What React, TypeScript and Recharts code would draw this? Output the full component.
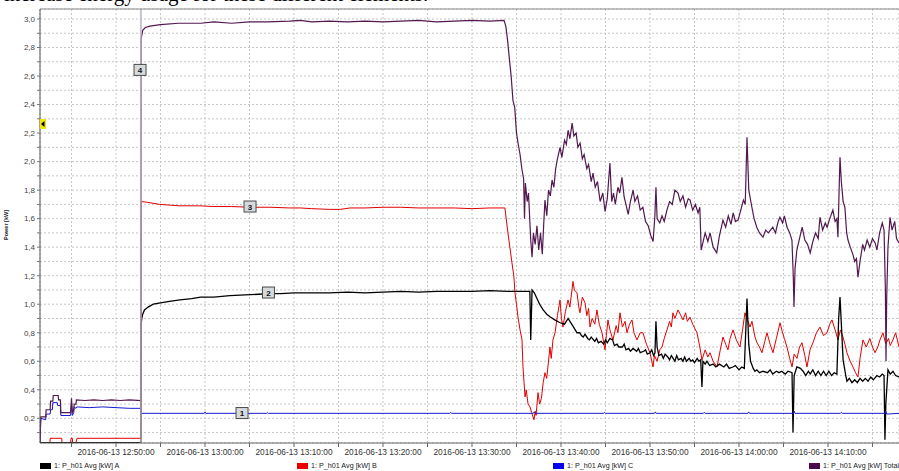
import React from 'react'
import {
  LineChart,
  Line,
  XAxis,
  YAxis,
  CartesianGrid,
  ReferenceLine,
  ReferenceDot,
} from 'recharts'

// time in minutes after 12:00, value in kW
const phaseA: [number, number][] = [
  [41.46, 0.03], [52.8, 0.03], [52.82, 0.86], [52.9, 0.9], [53.0, 0.93], [53.2, 0.96], [53.6, 0.98],
  [54.2, 1.0], [55, 1.01], [56, 1.02], [57.2, 1.03], [58.5, 1.04], [59.5, 1.05], [61, 1.05],
  [62.8, 1.06], [64.5, 1.065], [66, 1.07], [67.3, 1.075], [68.5, 1.075], [70, 1.08], [72, 1.08],
  [74, 1.08], [76, 1.085], [78, 1.08], [80, 1.085], [82, 1.09], [84, 1.085], [86, 1.09], [88, 1.09],
  [90, 1.09], [92, 1.095], [94, 1.09], [96.5, 1.09], [96.6, 0.75], [96.75, 1.1], [97.0, 1.08],
  [97.3, 1.04], [97.6, 1.0], [98.0, 0.96], [98.4, 0.93], [98.8, 0.91], [99.3, 0.89], [99.9, 0.87],
  [100.4, 0.86], [100.8, 0.9], [101.2, 0.86], [101.6, 0.82], [101.8, 0.8], [102.1, 0.8], [102.3, 0.78],
  [102.5, 0.77], [102.7, 0.79], [103.0, 0.76], [103.2, 0.75], [103.4, 0.77], [103.8, 0.74],
  [104.0, 0.76], [104.2, 0.73], [104.5, 0.74], [104.8, 0.72], [105.0, 0.75], [105.2, 0.73],
  [105.5, 0.76], [105.8, 0.75], [106.0, 0.71], [106.3, 0.72], [106.5, 0.7], [106.9, 0.7],
  [107.1, 0.72], [107.3, 0.68], [107.6, 0.69], [107.8, 0.67], [108.1, 0.69], [108.5, 0.67],
  [108.7, 0.69], [108.9, 0.66], [109.3, 0.67], [109.5, 0.68], [109.7, 0.65], [110.0, 0.66],
  [110.2, 0.68], [110.4, 0.64], [110.56, 0.66], [110.67, 0.88], [110.8, 0.7], [111.0, 0.64],
  [111.3, 0.65], [111.5, 0.62], [111.7, 0.65], [112.0, 0.63], [112.2, 0.61], [112.4, 0.64],
  [112.6, 0.62], [112.8, 0.6], [113.0, 0.64], [113.2, 0.61], [113.5, 0.62], [113.7, 0.6],
  [113.9, 0.63], [114.1, 0.6], [114.4, 0.62], [114.6, 0.6], [114.8, 0.61], [115.0, 0.59],
  [115.3, 0.62], [115.5, 0.6], [115.7, 0.61], [115.84, 0.42], [115.95, 0.6], [116.2, 0.58],
  [116.4, 0.6], [116.7, 0.57], [117.1, 0.58], [117.4, 0.56], [117.8, 0.58], [118.3, 0.56],
  [118.6, 0.58], [118.9, 0.55], [119.3, 0.56], [119.6, 0.57], [120.0, 0.54], [120.3, 0.56],
  [120.6, 0.55], [120.9, 1.04], [121.1, 0.72], [121.3, 0.6], [121.6, 0.55], [121.8, 0.53],
  [122.0, 0.54], [122.3, 0.52], [122.7, 0.53], [123.2, 0.52], [123.5, 0.54], [123.8, 0.51],
  [124.2, 0.53], [124.5, 0.52], [124.8, 0.53], [125.2, 0.51], [125.5, 0.53], [125.96, 0.52],
  [126.07, 0.1], [126.2, 0.5], [126.5, 0.56], [126.9, 0.55], [127.2, 0.53], [127.5, 0.5],
  [127.8, 0.53], [128.0, 0.51], [128.3, 0.54], [128.6, 0.5], [128.9, 0.53], [129.2, 0.5],
  [129.5, 0.53], [129.8, 0.5], [130.1, 0.53], [130.4, 0.5], [130.7, 0.52], [131.0, 0.51],
  [131.2, 0.9], [131.35, 1.05], [131.55, 0.8], [131.7, 0.61], [132.0, 0.5], [132.13, 0.46],
  [132.4, 0.48], [132.7, 0.45], [133.0, 0.47], [133.3, 0.45], [133.6, 0.48], [133.9, 0.46],
  [134.2, 0.48], [134.5, 0.46], [134.8, 0.49], [135.1, 0.47], [135.5, 0.5], [135.8, 0.49],
  [136.1, 0.51], [136.3, 0.5], [136.4, 0.05], [136.5, 0.3], [136.74, 0.54], [137.0, 0.51],
  [137.3, 0.53], [137.6, 0.5], [137.98, 0.49],
]

const phaseB: [number, number][] = [
  [41.46, 0.03], [42.58, 0.03], [42.6, 0.06], [43.9, 0.06], [43.93, 0.03], [44.9, 0.03], [44.95, 0.06],
  [45.1, 0.06], [45.12, 0.03], [45.5, 0.03], [45.62, 0.06], [52.8, 0.06], [52.82, 1.72], [53.5, 1.715],
  [54.9, 1.7], [56, 1.695], [57.2, 1.69], [59.4, 1.69], [61, 1.685], [63, 1.685], [65, 1.68],
  [67.3, 1.68], [69.5, 1.675], [70.7, 1.675], [72, 1.67], [74, 1.665], [75.2, 1.665], [76.3, 1.675],
  [78, 1.675], [80, 1.68], [82, 1.68], [84, 1.675], [86, 1.675], [88, 1.675], [90, 1.67], [92, 1.675],
  [93.7, 1.675], [94.04, 1.5], [94.3, 1.38], [94.49, 1.29], [94.7, 1.2], [94.83, 1.08], [95.0, 1.0],
  [95.17, 0.91], [95.4, 0.82], [95.62, 0.75], [95.73, 0.56], [95.85, 0.45], [95.96, 0.35], [96.1, 0.4],
  [96.3, 0.3], [96.52, 0.28], [96.7, 0.24], [96.97, 0.19], [97.1, 0.25], [97.2, 0.22], [97.42, 0.38],
  [97.6, 0.3], [97.8, 0.34], [98.0, 0.45], [98.2, 0.52], [98.4, 0.48], [98.76, 0.7], [98.9, 0.62],
  [99.1, 0.75], [99.33, 0.8], [99.6, 0.92], [99.89, 1.03], [100.05, 0.9], [100.22, 0.84], [100.5, 0.95],
  [100.79, 1.03], [101.0, 0.98], [101.35, 1.16], [101.5, 1.1], [101.8, 1.08], [102.0, 0.98],
  [102.13, 0.94], [102.4, 1.05], [102.7, 1.01], [102.9, 0.92], [103.1, 0.97], [103.26, 0.84],
  [103.5, 0.9], [103.8, 0.86], [104.04, 0.96], [104.3, 0.86], [104.61, 0.8], [104.94, 0.68],
  [105.1, 0.78], [105.28, 0.89], [105.5, 0.82], [105.84, 0.75], [106.2, 0.85], [106.4, 0.8],
  [106.63, 0.94], [106.9, 0.84], [107.2, 0.88], [107.42, 0.8], [107.7, 0.86], [107.98, 0.89],
  [108.2, 0.8], [108.54, 0.75], [108.9, 0.8], [109.21, 0.8], [109.6, 0.72], [110.0, 0.66],
  [110.34, 0.56], [110.5, 0.64], [110.8, 0.6], [111.1, 0.68], [111.35, 0.7], [111.6, 0.76],
  [111.91, 0.82], [112.2, 0.88], [112.4, 0.84], [112.58, 0.94], [112.8, 0.9], [113.15, 0.96],
  [113.4, 0.93], [113.71, 0.89], [114.0, 0.94], [114.2, 0.88], [114.49, 0.91], [114.8, 0.86],
  [115.28, 0.8], [115.6, 0.7], [115.84, 0.61], [116.2, 0.68], [116.5, 0.63], [116.74, 0.66],
  [117.1, 0.6], [117.53, 0.56], [117.9, 0.68], [118.2, 0.77], [118.5, 0.72], [118.76, 0.68],
  [119.0, 0.76], [119.33, 0.82], [119.7, 0.75], [120.11, 0.7], [120.4, 0.82], [120.67, 0.94],
  [120.9, 0.9], [121.24, 0.84], [121.46, 0.88], [121.8, 0.77], [122.02, 0.73], [122.3, 0.7],
  [122.58, 0.66], [122.9, 0.74], [123.15, 0.8], [123.5, 0.72], [123.82, 0.66], [124.2, 0.76],
  [124.61, 0.87], [124.9, 0.8], [125.1, 0.76], [125.39, 0.7], [125.7, 0.62], [125.96, 0.56],
  [126.2, 0.65], [126.52, 0.62], [126.8, 0.7], [127.08, 0.73], [127.4, 0.64], [127.64, 0.56],
  [127.98, 0.68], [128.31, 0.73], [128.7, 0.8], [129.1, 0.84], [129.5, 0.78], [129.89, 0.8],
  [130.2, 0.86], [130.45, 0.89], [130.8, 0.82], [131.12, 0.75], [131.4, 0.82], [131.69, 0.77],
  [131.9, 0.72], [132.13, 0.66], [132.5, 0.6], [132.81, 0.56], [133.1, 0.52], [133.37, 0.49],
  [133.6, 0.62], [133.93, 0.75], [134.3, 0.7], [134.7, 0.76], [135.0, 0.7], [135.28, 0.66],
  [135.6, 0.7], [135.84, 0.75], [136.18, 0.8], [136.5, 0.72], [136.8, 0.76], [137.0, 0.71],
  [137.3, 0.75], [137.6, 0.8], [137.98, 0.7],
]

const phaseC: [number, number][] = [
  [41.46, 0.03], [41.55, 0.2], [42.1, 0.19], [42.15, 0.23], [42.6, 0.23], [42.65, 0.26], [42.85, 0.26],
  [42.9, 0.31], [43.4, 0.31], [43.45, 0.29], [43.75, 0.29], [43.8, 0.22], [44.9, 0.22], [45.0, 0.3],
  [45.1, 0.22], [45.25, 0.24], [45.3, 0.28], [45.5, 0.27], [45.6, 0.28], [47, 0.275], [48.5, 0.28],
  [50, 0.275], [51.5, 0.27], [52.8, 0.27], [52.82, 0.235], [59.9, 0.235], [60, 0.245], [60.1, 0.235],
  [66.9, 0.235], [67, 0.24], [67.1, 0.235], [87.5, 0.235], [87.6, 0.242], [87.7, 0.235],
  [96.9, 0.235], [97, 0.245], [97.1, 0.235], [104.8, 0.235], [104.9, 0.242], [105, 0.235],
  [110.5, 0.235], [110.6, 0.245], [110.7, 0.235], [116, 0.235], [116.1, 0.242], [116.2, 0.235],
  [121, 0.235], [121.1, 0.245], [121.2, 0.235], [126.1, 0.235], [126.2, 0.25], [126.3, 0.235],
  [131.4, 0.235], [131.5, 0.242], [131.6, 0.235], [136.4, 0.235], [136.5, 0.25], [136.6, 0.23],
  [137.98, 0.235],
]

const total: [number, number][] = [
  [41.46, 0.03], [41.55, 0.21], [42.1, 0.21], [42.15, 0.26], [42.6, 0.26], [42.65, 0.32], [42.9, 0.32],
  [42.95, 0.36], [43.5, 0.36], [43.55, 0.33], [43.75, 0.33], [43.8, 0.24], [44.9, 0.24], [45.0, 0.34],
  [45.1, 0.24], [45.25, 0.26], [45.3, 0.3], [45.5, 0.3], [45.55, 0.33], [46.5, 0.325], [47.5, 0.33],
  [48.5, 0.325], [49.5, 0.33], [50.5, 0.325], [51.5, 0.33], [52.8, 0.325], [52.82, 2.86], [53.0, 2.92],
  [53.3, 2.94], [53.8, 2.95], [55, 2.96], [57, 2.97], [59.5, 2.97], [61, 2.98], [63, 2.97], [65, 2.98],
  [67, 2.98], [69.5, 2.985], [70.7, 2.99], [72, 2.98], [74, 2.985], [76, 2.98], [78, 2.985], [80, 2.98],
  [82, 2.985], [84, 2.99], [86, 2.98], [88, 2.985], [90, 2.99], [92, 2.985], [93.6, 2.99],
  [93.8, 2.95], [94.0, 2.85], [94.2, 2.72], [94.4, 2.6], [94.6, 2.43], [94.8, 2.38], [95.0, 2.2],
  [95.2, 2.12], [95.4, 2.05], [95.6, 1.95], [95.8, 1.88], [95.9, 1.6], [96.0, 1.85], [96.2, 1.72],
  [96.35, 1.78], [96.5, 1.58], [96.6, 1.45], [96.75, 1.33], [96.9, 1.5], [97.1, 1.42], [97.3, 1.55],
  [97.5, 1.38], [97.7, 1.5], [97.9, 1.35], [98.05, 1.55], [98.2, 1.73], [98.4, 1.62], [98.6, 1.8],
  [98.8, 1.76], [99.0, 1.87], [99.2, 1.82], [99.4, 1.95], [99.6, 2.02], [99.9, 2.1], [100.1, 2.03],
  [100.4, 2.15], [100.6, 2.12], [100.8, 2.22], [101.0, 2.16], [101.25, 2.27], [101.45, 2.18],
  [101.7, 2.2], [101.9, 2.1], [102.15, 2.13], [102.4, 2.02], [102.6, 2.05], [102.9, 1.95],
  [103.1, 1.98], [103.4, 1.86], [103.6, 1.92], [103.85, 1.82], [104.1, 1.86], [104.4, 1.72],
  [104.7, 1.78], [104.95, 1.65], [105.2, 1.74], [105.5, 1.99], [105.7, 1.72], [105.9, 1.78],
  [106.1, 1.7], [106.4, 1.82], [106.6, 1.78], [106.85, 1.89], [107.1, 1.75], [107.3, 1.7],
  [107.55, 1.63], [107.8, 1.72], [108.1, 1.8], [108.3, 1.72], [108.6, 1.76], [108.9, 1.66],
  [109.2, 1.68], [109.5, 1.58], [109.8, 1.55], [110.1, 1.48], [110.35, 1.44], [110.55, 1.62],
  [110.67, 1.82], [110.8, 1.6], [111.1, 1.57], [111.35, 1.62], [111.6, 1.58], [111.9, 1.66],
  [112.2, 1.72], [112.5, 1.7], [112.8, 1.8], [113.15, 1.78], [113.4, 1.72], [113.7, 1.76],
  [114.0, 1.68], [114.3, 1.74], [114.5, 1.73], [114.8, 1.66], [115.1, 1.7], [115.4, 1.64],
  [115.6, 1.68], [115.75, 1.38], [115.9, 1.42], [116.2, 1.5], [116.5, 1.44], [116.75, 1.5],
  [117.1, 1.4], [117.5, 1.36], [117.8, 1.48], [118.2, 1.59], [118.5, 1.54], [118.8, 1.62],
  [119.1, 1.56], [119.35, 1.64], [119.6, 1.58], [119.9, 1.59], [120.2, 1.66], [120.5, 1.73],
  [120.7, 1.7], [120.9, 2.17], [121.1, 1.8], [121.45, 1.68], [121.7, 1.6], [122.0, 1.54],
  [122.3, 1.5], [122.7, 1.47], [123.0, 1.52], [123.3, 1.5], [123.8, 1.54], [124.1, 1.5],
  [124.4, 1.58], [124.6, 1.61], [124.9, 1.57], [125.1, 1.62], [125.4, 1.54], [125.7, 1.5],
  [125.95, 1.45], [126.1, 1.2], [126.18, 0.98], [126.3, 1.25], [126.5, 1.38], [126.8, 1.46],
  [127.1, 1.54], [127.4, 1.45], [127.7, 1.42], [128.0, 1.36], [128.3, 1.44], [128.6, 1.5],
  [128.9, 1.46], [129.1, 1.61], [129.4, 1.52], [129.7, 1.57], [129.9, 1.54], [130.2, 1.6],
  [130.55, 1.66], [130.8, 1.58], [131.0, 1.6], [131.12, 1.47], [131.25, 1.8], [131.35, 2.03],
  [131.5, 1.86], [131.7, 1.72], [131.9, 1.68], [132.1, 1.5], [132.25, 1.45], [132.5, 1.4],
  [132.8, 1.35], [133.0, 1.3], [133.2, 1.32], [133.37, 1.19], [133.6, 1.3], [133.9, 1.42],
  [134.1, 1.38], [134.4, 1.45], [134.7, 1.4], [135.0, 1.46], [135.3, 1.43], [135.5, 1.38],
  [135.8, 1.5], [136.1, 1.57], [136.3, 1.52], [136.45, 1.1], [136.52, 0.6], [136.6, 1.05],
  [136.74, 1.4], [136.97, 1.61], [137.2, 1.52], [137.5, 1.58], [137.7, 1.46], [137.98, 1.43],
]

const xTicks = [45, 50, 55, 60, 65, 70, 75, 80, 85, 90, 95, 100, 105, 110, 115, 120, 125, 130, 135]
const yTicks = [
  0.1, 0.2, 0.3, 0.4, 0.5, 0.6, 0.7, 0.8, 0.9, 1.0, 1.1, 1.2, 1.3, 1.4, 1.5,
  1.6, 1.7, 1.8, 1.9, 2.0, 2.1, 2.2, 2.3, 2.4, 2.5, 2.6, 2.7, 2.8, 2.9, 3.0,
]

const markers = [
  { label: '4', t: 52.7, v: 2.643 },
  { label: '3', t: 65.06, v: 1.685 },
  { label: '2', t: 67.13, v: 1.082 },
  { label: '1', t: 64.16, v: 0.237 },
]

const legendItems = [
  { name: '1: P_h01 Avg [kW] A', color: '#000000', left: 40 },
  { name: '1: P_h01 Avg [kW] B', color: '#ee0000', left: 297 },
  { name: '1: P_h01 Avg [kW] C', color: '#0000ee', left: 553 },
  { name: '1: P_h01 Avg [kW] Total', color: '#4a0a4a', left: 809 },
]

const toRows = (pts: [number, number][]) => pts.map(([t, v]) => ({ t, v }))

const formatTime = (m: number) => {
  if (m % 10 !== 0) return ''
  const h = 12 + Math.floor(m / 60)
  const mm = m % 60
  return `2016-06-13 ${h}:${String(mm).padStart(2, '0')}:00`
}

const formatKw = (v: number) => {
  const r = Math.round(v * 10)
  if (r % 2 !== 0) return ''
  return (r / 10).toFixed(1).replace('.', ',')
}

const font = '"Liberation Sans", Arial, sans-serif'

const NumberBox = (props: any) => {
  const { cx, cy, label } = props
  return (
    <g>
      <rect x={cx - 6} y={cy - 5.5} width={12} height={11} fill="#d5dadd" stroke="#4a4a4a" strokeWidth={1} />
      <text x={cx} y={cy + 3} textAnchor="middle" fontSize={8} fontWeight="bold" fontFamily={font} fill="#111">
        {label}
      </text>
    </g>
  )
}

const CursorMark = (props: any) => {
  const { cx, cy } = props
  return (
    <g>
      <rect x={cx - 2.5} y={cy - 5} width={6} height={10} fill="#f2e600" />
      <path d={`M${cx - 1.5} ${cy} L${cx + 2} ${cy - 3} L${cx + 2} ${cy + 3} Z`} fill="#000" />
    </g>
  )
}

export default function App() {
  return (
    <div
      style={{
        position: 'absolute',
        left: 0,
        top: 0,
        width: 899,
        height: 471,
        overflow: 'hidden',
        background: '#fff',
      }}
    >
      <div
        style={{
          position: 'absolute',
          left: 4,
          top: -16,
          fontFamily: '"Liberation Serif", "Times New Roman", serif',
          fontSize: 21,
          lineHeight: '21px',
          whiteSpace: 'nowrap',
          color: '#000',
        }}
      >
        increase energy usage for these different elements.
      </div>
      <LineChart width={899} height={471} margin={{ top: 0, right: 0, bottom: 0, left: 0 }}>
        <CartesianGrid stroke="#c6c6c6" strokeDasharray="2 2" />
        <XAxis
          xAxisId="top"
          orientation="top"
          type="number"
          domain={[41.46, 137.98]}
          allowDataOverflow
          height={9}
          tick={false}
          tickLine={false}
          axisLine={{ stroke: '#8a8a8a' }}
        />
        <XAxis
          dataKey="t"
          type="number"
          domain={[41.46, 137.98]}
          allowDataOverflow
          ticks={xTicks}
          interval={0}
          height={28}
          tickSize={4}
          tickMargin={2}
          tickFormatter={formatTime}
          tick={{ fontSize: 8.3, fill: '#333', fontFamily: font }}
          axisLine={{ stroke: '#666' }}
          tickLine={{ stroke: '#666' }}
        />
        <YAxis
          type="number"
          domain={[0.027, 3.07]}
          allowDataOverflow
          ticks={yTicks}
          interval={0}
          width={40}
          tickSize={3}
          tickMargin={2}
          tickFormatter={formatKw}
          tick={{ fontSize: 8, fill: '#444', fontFamily: font }}
          axisLine={{ stroke: '#555' }}
          tickLine={{ stroke: '#777' }}
        />
        <Line data={toRows(phaseB)} dataKey="v" type="linear" stroke="#e00000" strokeWidth={1} dot={false} isAnimationActive={false} />
        <Line data={toRows(phaseA)} dataKey="v" type="linear" stroke="#000000" strokeWidth={1.3} dot={false} isAnimationActive={false} />
        <Line data={toRows(phaseC)} dataKey="v" type="linear" stroke="#1818d0" strokeWidth={1} dot={false} isAnimationActive={false} />
        <Line data={toRows(total)} dataKey="v" type="linear" stroke="#52184f" strokeWidth={1.2} dot={false} isAnimationActive={false} />
        <ReferenceLine x={52.8} stroke="#b8b0c0" strokeOpacity={0.75} strokeWidth={2} />
        {markers.map((m) => (
          <ReferenceDot key={m.label} x={m.t} y={m.v} r={6} shape={(p: any) => <NumberBox {...p} label={m.label} />} />
        ))}
        <ReferenceDot x={41.74} y={2.264} r={5} shape={(p: any) => <CursorMark {...p} />} />
      </LineChart>
      <div
        style={{
          position: 'absolute',
          left: 6,
          top: 225,
          transform: 'translate(-50%, -50%) rotate(-90deg)',
          transformOrigin: 'center',
          fontFamily: font,
          fontSize: 5.5,
          fontWeight: 'bold',
          whiteSpace: 'nowrap',
          color: '#222',
        }}
      >
        Power [kW]
      </div>
      {legendItems.map((it) => (
        <div
          key={it.name}
          style={{
            position: 'absolute',
            left: it.left,
            top: 461,
            display: 'flex',
            alignItems: 'center',
            fontFamily: font,
            fontSize: 7.2,
            color: '#222',
            whiteSpace: 'nowrap',
          }}
        >
          <span style={{ display: 'inline-block', width: 11, height: 6, background: it.color, marginRight: 3 }} />
          {it.name}
        </div>
      ))}
    </div>
  )
}
